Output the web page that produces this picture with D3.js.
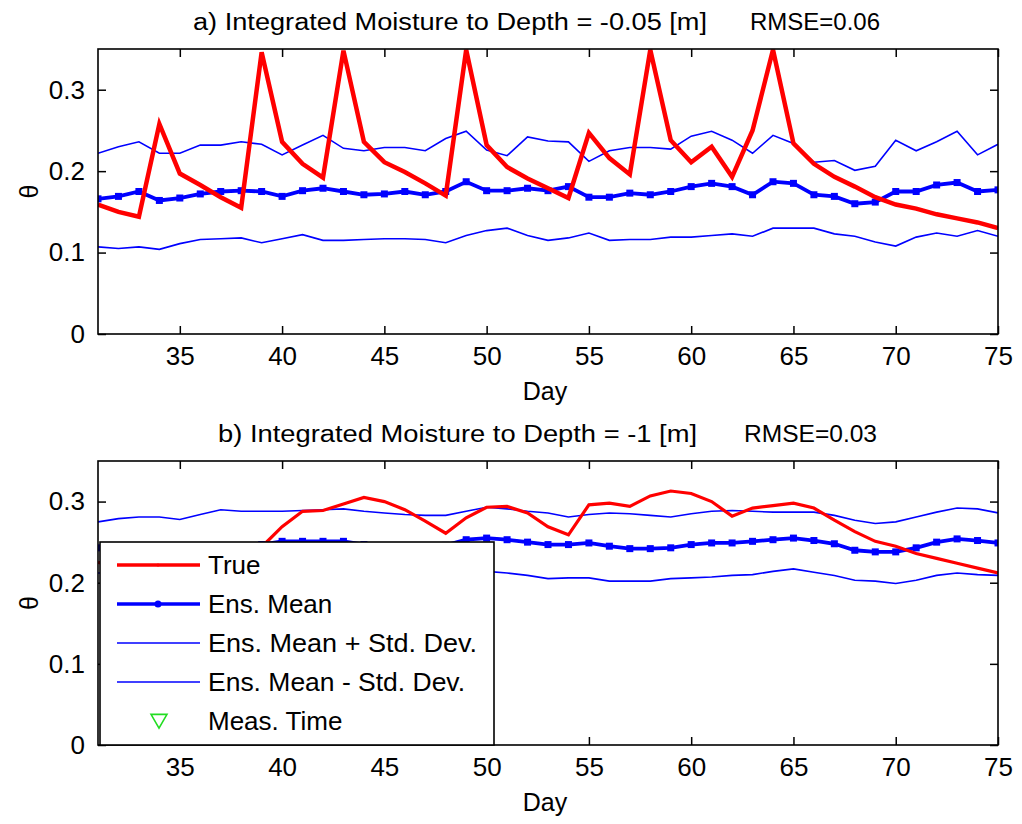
<!DOCTYPE html>
<html>
<head>
<meta charset="utf-8">
<script src="https://cdn.jsdelivr.net/npm/d3@7"></script>
<style>
  body { margin: 0; background: #fff; }
  svg { display: block; font-family: "Liberation Sans", Arial, sans-serif; }
</style>
</head>
<body>
<svg id="chart" width="1022" height="824"></svg>
<script>
// days on the x axis
let days = d3.range(31, 76)
let xTicks = [35, 40, 45, 50, 55, 60, 65, 70, 75]
let yTicks = [0, 0.1, 0.2, 0.3]

// a) depth -0.05 m
let trueTop = [0.159,0.150,0.144,0.258,0.197,0.183,0.168,0.155,0.346,0.236,0.209,0.192,0.348,0.236,0.211,
               0.199,0.185,0.170,0.349,0.232,0.205,0.191,0.179,0.167,0.247,0.216,0.196,0.349,0.238,0.211,
               0.230,0.193,0.250,0.349,0.234,0.209,0.193,0.181,0.168,0.159,0.154,0.147,0.142,0.137,0.130]
let meanTop = [0.166,0.169,0.175,0.164,0.167,0.172,0.175,0.176,0.175,0.169,0.176,0.179,0.175,0.171,0.172,
               0.175,0.171,0.175,0.187,0.176,0.176,0.179,0.176,0.181,0.168,0.168,0.173,0.171,0.175,0.181,
               0.185,0.181,0.171,0.187,0.185,0.171,0.169,0.160,0.162,0.175,0.175,0.183,0.186,0.175,0.177]
let upperTop = [0.222,0.230,0.236,0.222,0.222,0.232,0.232,0.236,0.233,0.220,0.232,0.244,0.228,0.225,0.229,
                0.229,0.225,0.240,0.249,0.226,0.219,0.242,0.237,0.236,0.212,0.225,0.229,0.229,0.227,0.243,
                0.249,0.238,0.222,0.244,0.234,0.211,0.213,0.201,0.206,0.238,0.225,0.236,0.249,0.220,0.233]
let lowerTop = [0.107,0.105,0.107,0.104,0.111,0.116,0.117,0.118,0.112,0.117,0.122,0.115,0.115,0.116,0.117,
                0.117,0.116,0.112,0.121,0.127,0.130,0.121,0.115,0.118,0.124,0.115,0.116,0.116,0.119,0.119,
                0.121,0.123,0.120,0.130,0.130,0.130,0.123,0.120,0.113,0.108,0.119,0.124,0.120,0.127,0.120]

// b) depth -1 m
let trueBot = [0.225,0.220,0.215,0.212,0.214,0.220,0.228,0.236,0.244,0.269,0.288,0.289,0.297,0.305,0.300,
               0.290,0.276,0.261,0.280,0.293,0.294,0.286,0.269,0.259,0.296,0.298,0.294,0.307,0.313,0.310,
               0.300,0.282,0.292,0.295,0.298,0.292,0.277,0.263,0.251,0.245,0.236,0.230,0.224,0.218,0.212]
let meanBot = [0.243,0.243,0.242,0.242,0.243,0.243,0.244,0.245,0.247,0.251,0.251,0.251,0.251,0.247,0.244,
               0.243,0.244,0.246,0.253,0.255,0.253,0.250,0.247,0.247,0.249,0.245,0.242,0.242,0.243,0.247,
               0.249,0.249,0.251,0.253,0.255,0.252,0.248,0.240,0.238,0.238,0.243,0.250,0.254,0.252,0.249]
let upperBot = [0.275,0.279,0.281,0.281,0.278,0.284,0.290,0.288,0.288,0.288,0.289,0.290,0.291,0.288,0.286,
                0.284,0.283,0.283,0.288,0.293,0.291,0.288,0.286,0.281,0.284,0.286,0.285,0.283,0.281,0.285,
                0.288,0.289,0.288,0.287,0.287,0.287,0.283,0.277,0.273,0.275,0.281,0.287,0.292,0.291,0.286]
let lowerBot = [0.212,0.212,0.211,0.210,0.210,0.211,0.212,0.213,0.213,0.212,0.211,0.211,0.212,0.213,0.214,
                0.215,0.215,0.215,0.215,0.214,0.212,0.209,0.205,0.206,0.206,0.202,0.202,0.202,0.205,0.206,
                0.207,0.209,0.210,0.214,0.217,0.213,0.209,0.203,0.202,0.199,0.203,0.209,0.212,0.210,0.209]

let legendNames = ["True", "Ens. Mean", "Ens. Mean + Std. Dev.", "Ens. Mean - Std. Dev.", "Meas. Time"]

let svg = d3.select("#chart")
let left = 98, right = 998

function drawPanel(id, top, bottom, title, rmse, titleX0, titleX1, rmseX0, rmseX1, series, redWidth){
     var x = d3.scaleLinear().domain([31, 75]).range([left, right])
     var y = d3.scaleLinear().domain([0, 0.35]).range([bottom, top])

     var g = svg.append("g").attr("class", "panel-" + id)

     svg.append("clipPath").attr("id", "clip-" + id)
          .append("rect")
          .attr("x", left).attr("y", top - 3)
          .attr("width", right - left).attr("height", bottom - top + 3)

     var plot = g.append("g").attr("clip-path", "url(#clip-" + id + ")")

     var line = d3.line()
          .x(function(d, i){ return x(days[i]) })
          .y(function(d){ return y(d) })

     //thin std dev lines
     plot.append("path").datum(series.upper)
          .attr("d", line).attr("fill", "none").attr("stroke", "#0000ff").attr("stroke-width", 1.6)
     plot.append("path").datum(series.lower)
          .attr("d", line).attr("fill", "none").attr("stroke", "#0000ff").attr("stroke-width", 1.6)

     //ensemble mean with square markers
     plot.append("path").datum(series.mean)
          .attr("d", line).attr("fill", "none").attr("stroke", "#0000ff").attr("stroke-width", 3.8)
     plot.selectAll("rect.mk").data(series.mean).enter().append("rect")
          .attr("class", "mk")
          .attr("x", function(d, i){ return x(days[i]) - 3.5 })
          .attr("y", function(d){ return y(d) - 3.5 })
          .attr("width", 7).attr("height", 7)
          .attr("fill", "#0000ff")

     //true state
     plot.append("path").datum(series.truth)
          .attr("d", line).attr("fill", "none").attr("stroke", "#ff0000")
          .attr("stroke-width", redWidth).attr("stroke-linejoin", "miter")

     //axes, ticks pointing inward on all four sides
     g.append("g").attr("transform", "translate(0," + bottom + ")")
          .call(d3.axisBottom(x).tickValues(xTicks).tickSize(-8).tickPadding(13).tickFormat(d3.format("d")))
     g.append("g").attr("transform", "translate(0," + top + ")")
          .call(d3.axisTop(x).tickValues(xTicks).tickSize(-8).tickFormat(""))
     g.append("g").attr("transform", "translate(" + left + ",0)")
          .call(d3.axisLeft(y).tickValues(yTicks).tickSize(-8).tickPadding(13).tickFormat(function(d){ return d === 0 ? "0" : d3.format(".1f")(d) }))
     g.append("g").attr("transform", "translate(" + right + ",0)")
          .call(d3.axisRight(y).tickValues(yTicks).tickSize(-8).tickFormat(""))

     g.selectAll(".domain").remove()
     g.selectAll(".tick line").attr("stroke", "#000").attr("stroke-width", 1.5)
     g.selectAll(".tick text").attr("fill", "#000").style("font-size", "26px")

     g.append("rect")
          .attr("x", left).attr("y", top)
          .attr("width", right - left).attr("height", bottom - top)
          .attr("fill", "none").attr("stroke", "#000").attr("stroke-width", 1.6)

     //titles and labels
     g.append("text").attr("x", titleX0).attr("y", top - 19)
          .attr("textLength", titleX1 - titleX0).attr("lengthAdjust", "spacingAndGlyphs")
          .style("font-size", "23px").text(title)
     g.append("text").attr("x", rmseX0).attr("y", top - 19)
          .attr("textLength", rmseX1 - rmseX0).attr("lengthAdjust", "spacingAndGlyphs")
          .style("font-size", "23px").text(rmse)
     g.append("text").attr("x", 545).attr("y", bottom + 66)
          .attr("text-anchor", "middle").style("font-size", "25px").text("Day")
     g.append("text")
          .attr("transform", "translate(38," + ((top + bottom) / 2) + ") rotate(-90)")
          .attr("text-anchor", "middle").style("font-size", "25px").text("θ")

     return {x: x, y: y}
}

drawPanel("a", 49, 334, "a) Integrated Moisture to Depth = -0.05 [m]", "RMSE=0.06", 193, 707, 750, 880,
     {truth: trueTop, mean: meanTop, upper: upperTop, lower: lowerTop}, 4.5)
drawPanel("b", 461, 745, "b) Integrated Moisture to Depth = -1 [m]", "RMSE=0.03", 218, 697, 744, 877,
     {truth: trueBot, mean: meanBot, upper: upperBot, lower: lowerBot}, 3.2)

//legend box in lower panel
let legend = svg.append("g").attr("class", "legend")
legend.append("rect")
     .attr("x", 100).attr("y", 542).attr("width", 394).attr("height", 203)
     .attr("fill", "#fff").attr("stroke", "#000").attr("stroke-width", 1.6)

let rowY = d3.scalePoint().domain(legendNames).range([565, 721])

legendNames.forEach(function(name, i){
     var yy = rowY(name)
     if (i < 4){
          legend.append("line")
               .attr("x1", 117).attr("x2", 200).attr("y1", yy).attr("y2", yy)
               .attr("stroke", i === 0 ? "#ff0000" : "#0000ff")
               .attr("stroke-width", i < 2 ? 3.5 : 1.6)
          if (i < 2){
               legend.append("circle").attr("cx", 158).attr("cy", yy)
                    .attr("r", i === 0 ? 1.5 : 3.5).attr("fill", i === 0 ? "#ff0000" : "#0000ff")
          }
     } else {
          legend.append("path")
               .attr("d", d3.symbol().type(d3.symbolTriangle).size(110))
               .attr("transform", "translate(159," + (yy - 2) + ") rotate(180)")
               .attr("fill", "none").attr("stroke", "#22dd22").attr("stroke-width", 1.6)
     }
     legend.append("text").attr("x", 208).attr("y", yy + 9)
          .attr("textLength", name.length > 12 ? (i === 2 ? 269 : 257) : null)
          .attr("lengthAdjust", "spacingAndGlyphs")
          .style("font-size", "26px").text(name)
})
</script>
</body>
</html>
